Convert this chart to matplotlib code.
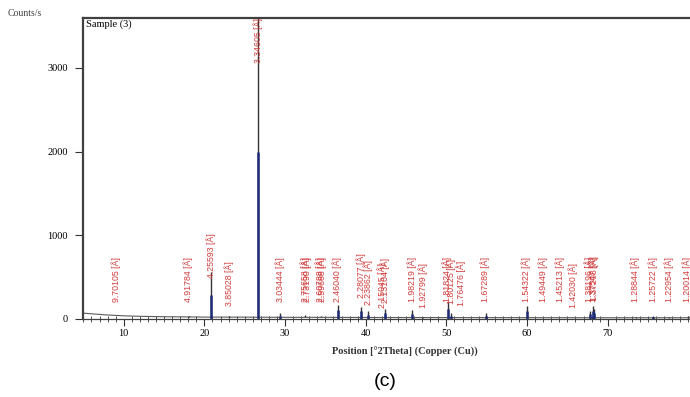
import numpy as np
import matplotlib
matplotlib.use("Agg")
import matplotlib.pyplot as plt
from matplotlib.ticker import MultipleLocator

# ---------- data ----------
BG_POS = [5, 6, 7, 8, 10, 12, 15, 18, 20, 25, 30, 35, 40, 50, 60, 70, 80.2]
BG_CNT = [70, 62, 55, 48, 38, 32, 27, 25, 23, 22, 20, 20, 18, 17, 16, 15, 15]

PEAK_POS  = [9.1, 18.03, 20.86, 23.09, 26.64, 29.42, 32.5, 34.4, 36.52, 39.46,
             40.28, 42.44, 45.78, 47.1, 50.14, 50.6, 54.86, 59.95, 67.75, 68.14,
             68.3, 73.45, 75.6, 77.6, 79.9]
PEAK_CNT  = [45, 40, 560, 32, 3700, 75, 42, 35, 170, 140,
             90, 115, 105, 28, 200, 70, 70, 160, 95, 150,
             115, 25, 35, 28, 30]
STICK_CNT = [0, 0, 290, 0, 2000, 30, 0, 0, 110, 90,
             50, 70, 60, 0, 120, 40, 40, 100, 60, 100,
             70, 0, 20, 0, 0]

LABELS = ["9.70105", "4.91784", "4.25593", "3.85028", "3.34605", "3.03444",
          "2.75658", "2.73190", "2.60788", "2.59688", "2.46040", "2.28077",
          "2.23862", "2.15045", "2.13104", "1.98219", "1.92799", "1.81824",
          "1.80125", "1.76476", "1.67289", "1.54322", "1.49449", "1.45213",
          "1.42030", "1.38196", "1.37547", "1.37208", "1.28844", "1.25722",
          "1.22954", "1.20014"]
LABEL_POS = [9.1, 18.03, 20.86, 23.09, 26.62, 29.42,
             32.45, 32.75, 34.4, 34.6, 36.5, 39.48,
             40.25, 41.98, 42.4, 45.73, 47.1, 50.13,
             50.6, 51.77, 54.83, 59.88, 62.05, 64.07,
             65.69, 67.75, 68.13, 68.3, 73.43, 75.57,
             77.58, 79.85]
# top of each label, in counts
LABEL_TOP = [740, 740, 1020, 690, 3590, 740,
             740, 745, 740, 745, 740, 790,
             700, 670, 730, 740, 670, 740,
             720, 690, 740, 740, 740, 740,
             670, 740, 745, 750, 740, 740,
             740, 740]
X_TICKS = [10, 20, 30, 40, 50, 60, 70]

W, H, DPI = 690, 397, 100
fig = plt.figure(figsize=(W / DPI, H / DPI), dpi=DPI)
ax = fig.add_axes([83 / W, 78 / H, (W - 83) / W, (319 - 18) / H])

ax.plot(BG_POS, BG_CNT, color="#5a5a5a", lw=0.8)
ax.vlines(PEAK_POS, np.interp(PEAK_POS, BG_POS, BG_CNT), PEAK_CNT,
          color="#333333", lw=1.0)
ax.vlines(PEAK_POS, 0, STICK_CNT, color="#1c2a78", lw=1.8)

for txt, x, top in zip(LABELS, LABEL_POS, LABEL_TOP):
    ax.text(x, top, f"{txt} [Å]", rotation=90, ha="center", va="top",
            fontsize=6.3, family="Liberation Sans", color="#d23c3c",
            clip_on=True)

ax.set_xlim(4.95, 80.2)
ax.set_ylim(0, 3596)
ax.set_xticks(X_TICKS)
ax.xaxis.set_minor_locator(MultipleLocator(1))
ax.yaxis.set_major_locator(MultipleLocator(1000))
ax.tick_params(axis="x", which="major", direction="out", length=5, width=0.8,
               labelsize=7.5, pad=2, color="#333333")
ax.tick_params(axis="x", which="minor", direction="inout", length=4, width=0.6,
               color="#333333")
ax.tick_params(axis="y", direction="out", length=6, width=0.8, labelsize=7.5,
               pad=5, color="#333333")
for lab in ax.get_xticklabels() + ax.get_yticklabels():
    lab.set_family("Liberation Serif")

ax.spines["right"].set_visible(False)
ax.spines["left"].set_linewidth(1.6)
ax.spines["top"].set_linewidth(1.6)
ax.spines["bottom"].set_linewidth(0.9)
for s in ax.spines.values():
    s.set_color("#404040")

ax.text(0.005, 0.995, "Sample (3)", transform=ax.transAxes, ha="left", va="top",
        fontsize=7.5, family="Liberation Serif")
fig.text(8 / W, 1 - 13 / H, "Counts/s", ha="left", va="center",
         fontsize=7, family="Liberation Serif", color="#444444")
fig.text(405 / W, 1 - 352 / H, "Position [°2Theta] (Copper (Cu))", ha="center",
         va="center", fontsize=7.5, family="Liberation Serif", fontweight="bold",
         color="#333333")
fig.text(385 / W, 1 - 382 / H, "(c)", ha="center", va="center", fontsize=14,
         family="Liberation Sans")

fig.savefig("out.png", dpi=DPI)
